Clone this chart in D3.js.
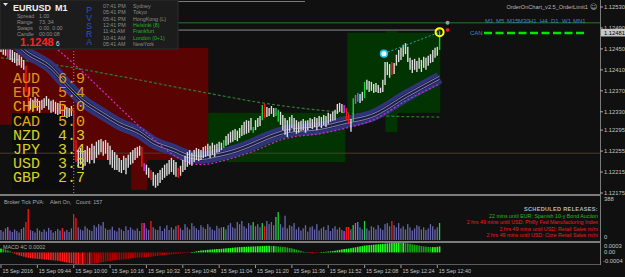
<!DOCTYPE html>
<html>
<head>
<meta charset="utf-8">
<script src="https://cdn.jsdelivr.net/npm/d3@7"></script>
<style>
html,body{margin:0;padding:0;background:#101010;overflow:hidden}
svg{display:block}
text{font-family:"Liberation Sans",Arial,sans-serif}
</style>
</head>
<body>
<div id="chart"></div>
<script>
// EURUSD M1, 15 Sep 2016, bars from 09:28 to 12:41
// prices are kept in points above 1.12000
const BASE = 1.12;
const firstBar = "09:28";

const highs = [467,463,458,454,452,448,444,442,439,435,429,
  418,376,
  356,353,358,355,351,353,356,360,355,351,353,349,347,
  345,341,343,339,337,341,
  334,276,
  257,261,253,257,265,261,269,265,273,276,278,274,276,271,265,257,253,
  248,242,238,246,242,248,253,257,261,263,265,
  263,232,229,223,219,215,210,213,219,223,229,232,238,242,238,234,223,227,
  238,246,253,257,252,257,261,259,257,263,265,269,265,271,267,269,273,271,
  276,284,288,292,295,297,294,299,305,311,314,313,318,301,314,318,322,
  343,345,339,337,341,337,337,334,
  330,324,318,314,320,324,318,314,311,313,316,313,314,318,316,320,318,322,320,324,322,328,326,330,334,
  345,347,345,343,337,326,316,356,362,366,364,368,
  387,391,389,387,383,385,381,376,391,425,425,421,425,423,
  439,448,452,458,461,454,433,429,431,427,433,429,435,433,437,440,448,452,454,484];

const lows = [444,439,437,433,429,425,423,418,419,414,410,
  368,328,
  334,330,337,332,328,334,337,341,334,328,330,326,324,
  326,322,320,318,320,322,
  257,234,
  223,229,219,227,234,231,238,232,242,248,253,246,250,238,229,223,219,
  219,215,213,219,211,223,229,232,238,242,246,
  225,217,210,204,200,189,185,189,194,200,204,208,211,215,210,206,204,208,
  215,219,225,229,227,234,238,236,238,242,244,246,242,248,244,252,253,257,
  261,265,267,271,273,276,274,280,284,286,288,290,295,290,295,301,303,
  314,318,320,322,326,320,322,311,
  305,295,286,282,292,299,292,288,290,294,295,290,295,299,297,301,295,303,299,305,301,307,311,313,314,
  326,330,328,328,314,307,292,311,345,349,347,351,
  356,372,368,370,366,368,366,366,368,381,400,395,400,402,
  418,425,429,435,440,425,410,404,410,406,412,406,414,410,418,423,425,433,437,448];

// PVSRA bar classes (bar index)
const redBars = [11,12,27,32,33,62,66,78,116,152,153,172];
const greenBars = [98,111,115,121,122,155,160,193];
const magentaBars = [3,63,151,156];
const blueBars = [157];

// tick volume
const volumes = [95,80,110,123,90,75,100,85,70,105,120,
  170,293,
  95,85,70,110,90,75,100,80,115,95,70,85,105,90,
  114,
  80,95,75,110,
  246,208,
  120,100,90,130,110,95,85,140,120,150,135,170,110,95,100,125,90,80,115,100,85,130,95,120,100,90,110,85,
  161,161,
  110,95,
  180,
  120,100,95,130,85,110,140,95,120,100,130,
  142,
  110,95,150,120,100,160,130,110,95,140,120,105,150,125,100,90,135,110,120,
  123,
  100,140,160,120,110,170,150,180,130,110,160,140,
  170,
  130,150,120,
  161,132,
  180,150,170,140,
  218,265,
  150,120,230,110,140,130,160,100,120,90,110,140,80,120,130,100,150,90,110,125,95,140,85,110,130,100,120,95,
  85,123,123,100,142,161,170,
  120,100,
  180,
  110,90,130,120,100,140,110,95,150,160,130,
  180,
  140,120,160,110,130,100,150,120,90,110,140,130,100,120,95,110,150,130,100,120,
  161];

// MACD histogram, in points
const macd = [18,16,13,9,5,
  -2,-6,-10,-14,-17,-20,
  -23,-25,-27,-28,-29,-30,-31,-32,-33,-34,
  -35,-36,-37,-38,-39,-41,-43,-45,-47,-49,
  -50,-52,-54,-55,-55,-56,-55,-54,-55,-53,
  -52,-50,-49,-47,-45,-43,-41,-40,-38,-37,
  -36,-35,-34,-33,-32,-30,-28,-27,-26,-25,
  -24,-24,-23,-22,-21,-20,-19,-17,-16,-14,
  -13,-12,-11,-10,-9,-8,-7,-6,-5,-4,
  -3,-2,-1,1,3,5,7,9,10,11,
  12,13,14,15,16,16,17,18,19,20,
  21,22,23,24,25,25,26,26,27,27,
  28,28,29,29,30,30,31,31,30,30,
  29,28,27,26,25,23,21,19,16,13,
  10,7,4,1,-2,-3,-4,-4,-3,-2,
  1,2,3,4,5,6,8,10,12,14,
  16,17,18,20,22,24,26,28,30,32,
  33,34,35,36,37,38,39,40,41,42,
  43,44,44,45,45,44,44,43,42,40,
  38,36,34,32,30,28,27,26,25,25,
  25,26,28];

// moving averages read at some bars: [bar, points]
const bandMA = [[4,471],[11,444],[22,414],[29,381],[36,351],[44,328],[52,307],[61,290],[67,272],[76,257],
  [82,246],[88,242],[94,246],[104,257],[110,267],[118,282],[126,293],[140,299],[152,311],[163,322],[179,362],[193,395]];
const slowMA = [[17,477],[24,452],[35,410],[47,360],[57,318],[66,282],[78,242],[88,229],[99,238],[110,253],
  [126,280],[140,288],[152,299],[163,313],[179,353],[193,383]];
const longMA = [[0,433],[22,421],[52,398],[88,368],[118,345],[152,328],[169,322],[193,320]];

// supply / demand zones: [fromBar, toBar, top, bottom]
const redZones = [[-1,91.2,452,305],[31.7,91.2,333,238],[57.3,64.3,238,181]];
const greenZones = [[91.2,151.5,328,234],[152.4,193.3,481,328],[169.2,174.4,484,291]];
const level1 = 500, level2 = 486, level3 = 251;

// swing points
const swings = [[168.5,441],[193,482]];

// currency strength
const currencies = ["AUD","EUR","CHF","CAD","NZD","JPY","USD","GBP"];
const strength = [6.9,5.4,5.0,5.0,4.3,3.4,3.3,2.7];

const priceTicks = [1.12530,1.12490,1.12450,1.12410,1.12370,1.12330,1.12295,1.12255,1.12215,1.12175];
const timeTicks = ["15 Sep 2016","15 Sep 09:44","15 Sep 10:00","15 Sep 10:16","15 Sep 10:32","15 Sep 10:48",
  "15 Sep 11:04","15 Sep 11:20","15 Sep 11:36","15 Sep 11:52","15 Sep 12:08","15 Sep 12:24","15 Sep 12:40"];

const sessions = [["07:41 PM","Sydney",0],["05:41 PM","Tokyo",0],["05:41 PM","HongKong (L)",0],
  ["12:41 PM","Helsinki (8)",1],["11:41 AM","Frankfurt",1],["10:41 AM","London (0+1)",1],["05:41 AM","NewYork",0]];
const infoRows = [["Spread","1.00"],["Range","73, 34"],["Swaps","0.00, 0.00"],["Candle","00:00:08"]];
const releases = [["22 mins until EUR: Spanish 10-y Bond Auction",1],
  ["2 hrs 49 mins until USD: Philly Fed Manufacturing Index",0],
  ["2 hrs 49 mins until USD: Retail Sales m/m",0],
  ["2 hrs 49 mins until USD: Core Retail Sales m/m",0]];

// ---------------------------------------------------------------
const W = 625, H = 277;
const svg = d3.select("#chart").append("svg").attr("width", W).attr("height", H);
svg.append("rect").attr("width", W).attr("height", H).attr("fill", "#101010");

const px = p => BASE + p / 100000;
const x = d3.scaleLinear().domain([0, 193]).range([1, 439.6]);
const y = d3.scaleLinear().domain([1.12175, 1.12530]).range([193, 7]);
const yVol = d3.scaleLinear().domain([0, 388]).range([240, 199]);
const yMacd = d3.scaleLinear().domain([-40, 30]).range([261, 246]);
const main = svg.append("g");

// zones
main.selectAll(".rz").data(redZones).enter().append("rect")
  .attr("x", d => x(d[0])).attr("width", d => x(d[1]) - x(d[0]))
  .attr("y", d => y(px(d[2]))).attr("height", d => y(px(d[3])) - y(px(d[2])))
  .attr("fill", "#5a0303");
main.selectAll(".gz").data(greenZones).enter().append("rect")
  .attr("x", d => x(d[0])).attr("width", d => x(d[1]) - x(d[0]))
  .attr("y", d => y(px(d[2]))).attr("height", d => y(px(d[3])) - y(px(d[2])))
  .attr("fill", "#023402");

// backing of the strength labels
main.append("rect").attr("x", 12).attr("y", 113).attr("width", 61).attr("height", 77).attr("fill", "#0c0c0c");

// level lines
main.append("line").attr("x1", 0).attr("x2", 600).attr("y1", y(px(level3))).attr("y2", y(px(level3)))
  .attr("stroke", "#4b3c2a").attr("stroke-width", 1);
main.append("line").attr("x1", 0).attr("x2", 600).attr("y1", y(px(level1))).attr("y2", y(px(level1)))
  .attr("stroke", "#1f541f").attr("stroke-width", 1.5);
main.append("line").attr("x1", 0).attr("x2", x(193)).attr("y1", y(px(level2))).attr("y2", y(px(level2)))
  .attr("stroke", "#8c8c8c").attr("stroke-width", 1);
main.append("line").attr("x1", 178).attr("x2", 305).attr("y1", 1.5).attr("y2", 1.5)
  .attr("stroke", "#7a7a7a").attr("stroke-width", 1);

// period separator at 10:00
main.append("line").attr("x1", x(32)).attr("x2", x(32)).attr("y1", 0).attr("y2", 194)
  .attr("stroke", "#9a9a9a").attr("stroke-dasharray", "1,2");

// moving averages
const maLine = d3.line().x(d => x(d[0])).y(d => y(px(d[1]))).curve(d3.curveMonotoneX);
main.append("path").attr("d", maLine(longMA)).attr("fill", "none")
  .attr("stroke", "#2f7d2f").attr("stroke-width", 1.2).attr("stroke-dasharray", "3,2");
main.append("path").attr("d", maLine(bandMA)).attr("fill", "none")
  .attr("stroke", "#30337a").attr("stroke-width", 12);
main.append("path").attr("d", maLine(bandMA)).attr("fill", "none")
  .attr("stroke", "#1b1c46").attr("stroke-width", 5);
[-1.6, 1.6].forEach(o => {
  main.append("path").attr("d", maLine(bandMA)).attr("fill", "none")
    .attr("transform", `translate(0,${o})`)
    .attr("stroke", "#aeb0d4").attr("stroke-width", 0.7);
});
main.append("path").attr("d", maLine(slowMA)).attr("fill", "none")
  .attr("stroke", "#d22ad2").attr("stroke-width", 1.2).attr("stroke-dasharray", "2,2");

// bars
function barColor(i) {
  if (redBars.includes(i)) return "#ff1414";
  if (greenBars.includes(i)) return "#1fd03c";
  if (magentaBars.includes(i)) return "#cf3fe6";
  if (blueBars.includes(i)) return "#2a8cff";
  return "#dcdcdc";
}
main.selectAll(".bar").data(highs).enter().append("line")
  .attr("x1", (d, i) => x(i)).attr("x2", (d, i) => x(i))
  .attr("y1", d => y(px(d))).attr("y2", (d, i) => y(px(lows[i])))
  .attr("stroke", (d, i) => barColor(i)).attr("stroke-width", 1.4);

// swing markers
main.append("line").attr("x1", x(swings[0][0])).attr("y1", y(px(swings[0][1])))
  .attr("x2", x(swings[1][0])).attr("y2", y(px(swings[1][1])))
  .attr("stroke", "#1aa6c8").attr("stroke-dasharray", "2,2");
main.append("circle").attr("cx", x(swings[0][0])).attr("cy", y(px(swings[0][1]))).attr("r", 3.3)
  .attr("fill", "#ffffff").attr("stroke", "#22c4ff").attr("stroke-width", 1.6);
main.append("circle").attr("cx", x(swings[1][0])).attr("cy", y(px(swings[1][1]))).attr("r", 4)
  .attr("fill", "none").attr("stroke", "#ffff00").attr("stroke-width", 2);
main.append("circle").attr("cx", x(196.5)).attr("cy", y(px(level2))).attr("r", 1.8).attr("fill", "#ff2020");
main.append("circle").attr("cx", x(196.5)).attr("cy", y(px(level1))).attr("r", 2).attr("fill", "#9a9a9a");

// info panel
const info = svg.append("g");
info.append("rect").attr("x", 0).attr("y", 0).attr("width", 178).attr("height", 49)
  .attr("fill", "#1c1c1c").attr("stroke", "#2c2c2c");
info.append("path").attr("d", "M3,3 L8,3 L5.5,6 Z").attr("fill", "#e0e0e0");
info.append("text").attr("x", 13).attr("y", 11).text("EURUSD")
  .attr("font-size", 9).attr("font-weight", "bold").attr("fill", "#f2f2f2");
info.append("text").attr("x", 55).attr("y", 11).text("M1")
  .attr("font-size", 9).attr("font-weight", "bold").attr("fill", "#f2f2f2");
info.selectAll(".lab").data(infoRows).enter().append("text")
  .attr("x", 17).attr("y", (d, i) => 17.5 + i * 6).text(d => d[0])
  .attr("font-size", 5.3).attr("fill", "#8c8c8c");
info.selectAll(".val").data(infoRows).enter().append("text")
  .attr("x", 39).attr("y", (d, i) => 17.5 + i * 6).text(d => d[1])
  .attr("font-size", 5.3).attr("fill", "#8c8c8c");
info.append("text").attr("x", 20).attr("y", 46).text("1.1248")
  .attr("font-size", 11).attr("font-weight", "bold").attr("fill", "#ff2020");
info.append("text").attr("x", 56).attr("y", 46).text("6")
  .attr("font-size", 6.5).attr("fill", "#dcdcdc");
info.selectAll(".pv").data("PVSRA".split("")).enter().append("text")
  .attr("x", 89).attr("y", (d, i) => 13 + i * 8).text(d => d)
  .attr("text-anchor", "middle").attr("font-size", 8.6).attr("fill", "#2e50cf");
info.selectAll(".tm").data(sessions).enter().append("text")
  .attr("x", 103).attr("y", (d, i) => 8 + i * 6.3).text(d => d[0])
  .attr("font-size", 5.3).attr("fill", "#8c8c8c");
info.selectAll(".ct").data(sessions).enter().append("text")
  .attr("x", 133).attr("y", (d, i) => 8 + i * 6.3).text(d => d[1])
  .attr("font-size", 5.3).attr("fill", d => d[2] ? "#22b422" : "#8c8c8c");

// currency strength
const strengthColor = d3.scaleThreshold().domain([5.0, 5.3]).range(["#d8d21e", "#e0a816", "#e0901a"]);
const mono = "'Liberation Mono','Courier New',monospace";
svg.selectAll(".cs").data(currencies).enter().append("text")
  .attr("x", 13).attr("y", (d, i) => 83 + i * 14.2).text(d => d)
  .style("font-family", mono).attr("font-size", 15)
  .attr("fill", (d, i) => strengthColor(strength[i]));
svg.selectAll(".csv").data(strength).enter().append("text")
  .attr("x", 58).attr("y", (d, i) => 83 + i * 14.2).text(d => d.toFixed(1))
  .style("font-family", mono).attr("font-size", 15)
  .attr("fill", d => strengthColor(d));

// top right labels
svg.append("text").attr("x", 588).attr("y", 8.5).attr("text-anchor", "end")
  .text("OrderOnChart_v2.5_OrderLimit1").attr("font-size", 5.6).attr("fill", "#b8b8b8");
svg.append("text").attr("x", 590).attr("y", 9).text("\u263A")
  .style("font-family", "'DejaVu Sans'").attr("font-size", 7).attr("fill", "#b8b8b8");
const tfs = ["M1","M5","M15","M30","H1","H4","D1","W1","MN1"];
const tfX = d3.scalePoint().domain(tfs).range([485, 573]);
svg.selectAll(".tf").data(tfs).enter().append("text")
  .attr("x", d => tfX(d)).attr("y", 23).text(d => d)
  .attr("font-size", 6).attr("fill", "#3f86c4");
svg.append("text").attr("x", 470).attr("y", 35).text("CAN").attr("font-size", 6).attr("fill", "#4a86bc");
svg.append("line").attr("x1", 484).attr("x2", 584).attr("y1", 33).attr("y2", 33)
  .attr("stroke", "#00e600").attr("stroke-width", 2.5).attr("stroke-dasharray", "8,3.5");

// separators and right axis
svg.append("rect").attr("x", 0).attr("y", 194).attr("width", 601).attr("height", 2).attr("fill", "#7c7c7c");
svg.append("rect").attr("x", 0).attr("y", 241).attr("width", 601).attr("height", 2).attr("fill", "#7c7c7c");
svg.append("line").attr("x1", 0).attr("x2", 601).attr("y1", 264.5).attr("y2", 264.5).attr("stroke", "#5c5c5c");
svg.append("line").attr("x1", 600.5).attr("x2", 600.5).attr("y1", 0).attr("y2", 265).attr("stroke", "#7c7c7c");

svg.selectAll(".pt").data(priceTicks).enter().append("text")
  .attr("x", 604).attr("y", d => y(d) + 2).text(d => d.toFixed(5))
  .attr("font-size", 5.8).attr("fill", "#c4c4c4");
svg.selectAll(".ptk").data(priceTicks).enter().append("line")
  .attr("x1", 600).attr("x2", 603).attr("y1", d => y(d)).attr("y2", d => y(d)).attr("stroke", "#aaa");
svg.append("rect").attr("x", 601).attr("y", y(1.12481) - 3.8).attr("width", 24).attr("height", 7.6).attr("fill", "#c8c8c8");
svg.append("text").attr("x", 604).attr("y", y(1.12481) + 2).text("1.12481").attr("font-size", 5.8).attr("fill", "#000");

// volume panel
svg.append("text").attr("x", 4).attr("y", 204).style("white-space", "pre")
  .text("Broker Tick PVA:    Alert On,   Count: 157").attr("font-size", 5.4).attr("fill", "#a8a8a8");
function volColor(i) {
  if (redBars.includes(i)) return "#ff1414";
  if (greenBars.includes(i)) return "#1fd03c";
  if (magentaBars.includes(i)) return "#d23fe8";
  if (blueBars.includes(i)) return "#2a9cff";
  return "#6766ab";
}
svg.selectAll(".vol").data(volumes).enter().append("rect")
  .attr("x", (d, i) => x(i) - 0.7).attr("width", 1.3)
  .attr("y", d => yVol(d)).attr("height", d => yVol(0) - yVol(d))
  .attr("fill", (d, i) => volColor(i));
svg.append("text").attr("x", 604).attr("y", yVol(388) + 2).text("388").attr("font-size", 5.8).attr("fill", "#c4c4c4");
svg.append("text").attr("x", 604).attr("y", yVol(0) - 1).text("0").attr("font-size", 5.8).attr("fill", "#c4c4c4");

svg.append("text").attr("x", 598).attr("y", 211).attr("text-anchor", "end")
  .text("SCHEDULED RELEASES:").attr("font-size", 5.6).attr("font-weight", "bold")
  .attr("letter-spacing", 0.3).attr("fill", "#b4b4b4");
svg.selectAll(".rel").data(releases).enter().append("text")
  .attr("x", 598).attr("y", (d, i) => 218 + i * 6.4).attr("text-anchor", "end")
  .text(d => d[0]).attr("font-size", 5.3).attr("fill", d => d[1] ? "#1fbf1f" : "#f01e1e");

// MACD panel
svg.append("text").attr("x", 3).attr("y", 249).text("MACD 4C 0.0002").attr("font-size", 5.4).attr("fill", "#a8a8a8");
svg.selectAll(".mh").data(macd).enter().append("rect")
  .attr("x", (d, i) => x(i) - 0.8).attr("width", 1.6)
  .attr("y", d => Math.min(yMacd(d), yMacd(0)))
  .attr("height", d => Math.max(0.6, Math.abs(yMacd(d) - yMacd(0))))
  .attr("fill", (d, i) => {
    const up = i === 0 || d >= macd[i - 1];
    if (d >= 0) return up ? "#22ff22" : "#12a812";
    return up ? "#b00000" : "#ff1a1a";
  });
svg.append("text").attr("x", 604).attr("y", yMacd(30) + 2).text("0.0003").attr("font-size", 5.8).attr("fill", "#c4c4c4");
svg.append("text").attr("x", 604).attr("y", yMacd(0) + 2).text("0.00").attr("font-size", 5.8).attr("fill", "#c4c4c4");
svg.append("text").attr("x", 603).attr("y", yMacd(-40) + 2).text("-0.0004").attr("font-size", 5.8).attr("fill", "#c4c4c4");

// time axis
const t0 = d3.timeParse("%H:%M")(firstBar);
const barOf = lab => {
  const m = lab.match(/(\d\d):(\d\d)$/);
  if (!m) return 0;
  return (+m[1] * 60 + +m[2]) - (t0.getHours() * 60 + t0.getMinutes());
};
svg.selectAll(".tt").data(timeTicks).enter().append("line")
  .attr("x1", d => x(barOf(d))).attr("x2", d => x(barOf(d)))
  .attr("y1", 265).attr("y2", 268).attr("stroke", "#9a9a9a");
svg.selectAll(".tl").data(timeTicks).enter().append("text")
  .attr("x", d => x(barOf(d)) + 1.5).attr("y", 273).text(d => d)
  .attr("font-size", 5.4).attr("fill", "#c4c4c4");
</script>
</body>
</html>
